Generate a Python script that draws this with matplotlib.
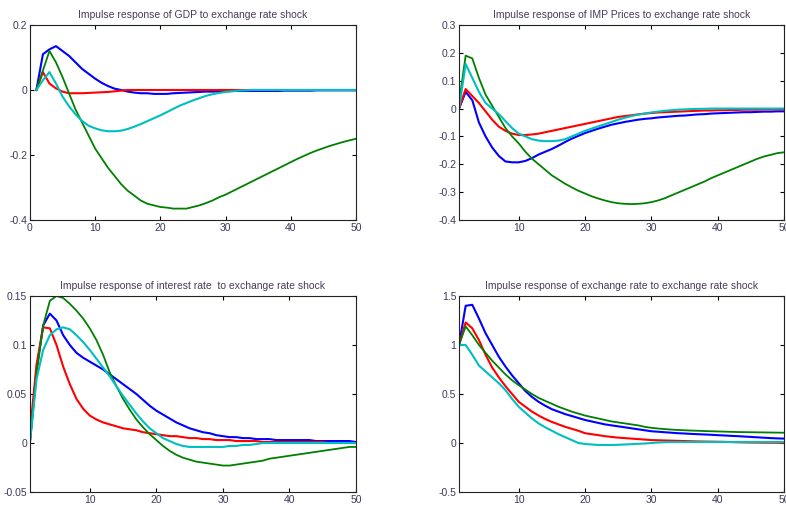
import numpy as np
import matplotlib
matplotlib.use('Agg')
import matplotlib.pyplot as plt

plt.rcParams['font.family'] = ['Liberation Sans', 'DejaVu Sans']

periods = np.arange(1, 51)

# GDP response
gdp_blue = [0, 0.11, 0.125, 0.135, 0.12, 0.105, 0.085, 0.065, 0.05, 0.035,
            0.022, 0.012, 0.004, 0.0, -0.005, -0.008, -0.01, -0.01, -0.012, -0.012,
            -0.012, -0.01, -0.009, -0.008, -0.007, -0.006, -0.005, -0.005, -0.004, -0.004,
            -0.003, -0.003, -0.003, -0.003, -0.003, -0.003, -0.003, -0.003, -0.002, -0.002,
            -0.002, -0.002, -0.002, -0.001, -0.001, -0.001, -0.001, -0.001, -0.001, -0.001]
gdp_red = [0, 0.055, 0.02, 0.005, -0.005, -0.01, -0.01, -0.01, -0.009, -0.008,
           -0.007, -0.006, -0.004, -0.002, 0.0, 0.0, 0.0, 0.0, 0.0, 0.0,
           0.0, 0.0, 0.0, 0.0, 0.0, 0.0, 0.0, 0.0, 0.0, 0.0,
           0.0, 0.0, 0.0, 0.0, 0.0, 0.0, 0.0, 0.0, 0.0, 0.0,
           0.0, 0.0, 0.0, 0.0, 0.0, 0.0, 0.0, 0.0, 0.0, 0.0]
gdp_green = [0, 0.06, 0.12, 0.085, 0.04, -0.01, -0.06, -0.1, -0.14, -0.18,
             -0.21, -0.24, -0.265, -0.29, -0.31, -0.325, -0.34, -0.35, -0.355, -0.36,
             -0.362, -0.365, -0.365, -0.365, -0.36, -0.355, -0.348, -0.34, -0.33, -0.322,
             -0.312, -0.302, -0.292, -0.282, -0.272, -0.262, -0.252, -0.242, -0.232, -0.222,
             -0.212, -0.203, -0.194, -0.186, -0.179, -0.172, -0.166, -0.16, -0.155, -0.15]
gdp_cyan = [0, 0.03, 0.055, 0.02, -0.02, -0.05, -0.075, -0.095, -0.11, -0.118,
            -0.124, -0.127, -0.127, -0.125, -0.12, -0.113, -0.105, -0.096, -0.087, -0.078,
            -0.068, -0.058, -0.048, -0.04, -0.032, -0.025, -0.018, -0.013, -0.009, -0.006,
            -0.004, -0.002, -0.001, 0.0, 0.0, 0.0, 0.0, 0.0, 0.0, 0.0,
            0.0, 0.0, 0.0, 0.0, 0.0, 0.0, 0.0, 0.0, 0.0, 0.0]

# import prices response
imp_blue = [0, 0.06, 0.03, -0.05, -0.1, -0.14, -0.17, -0.19, -0.193, -0.193,
            -0.188, -0.178, -0.165, -0.155, -0.145, -0.133, -0.12, -0.108, -0.098, -0.088,
            -0.08, -0.072, -0.065, -0.058, -0.053, -0.048, -0.044, -0.04, -0.037, -0.035,
            -0.032, -0.03, -0.028, -0.026, -0.025, -0.023, -0.021, -0.02, -0.018, -0.017,
            -0.016, -0.015, -0.014, -0.013, -0.013, -0.012, -0.011, -0.011, -0.01, -0.01]
imp_red = [0, 0.07, 0.045, 0.02, -0.01, -0.04, -0.065, -0.08, -0.09, -0.095,
           -0.095, -0.093, -0.09, -0.085, -0.08, -0.075, -0.07, -0.065, -0.06, -0.055,
           -0.05, -0.045, -0.04, -0.035, -0.03, -0.027, -0.024, -0.021, -0.018, -0.016,
           -0.014, -0.013, -0.012, -0.011, -0.01, -0.009, -0.008, -0.007, -0.007, -0.006,
           -0.006, -0.005, -0.005, -0.004, -0.004, -0.004, -0.003, -0.003, -0.003, -0.003]
imp_green = [0.02, 0.19, 0.18, 0.11, 0.05, 0.01, -0.03, -0.07, -0.1, -0.125,
             -0.155, -0.18, -0.2, -0.22, -0.24, -0.255, -0.27, -0.283, -0.295, -0.305,
             -0.315, -0.323, -0.33, -0.336, -0.34, -0.342, -0.343, -0.342, -0.34, -0.336,
             -0.33, -0.322, -0.312, -0.302, -0.292, -0.282, -0.272, -0.262, -0.25, -0.24,
             -0.23, -0.22, -0.21, -0.2, -0.19, -0.18, -0.172, -0.166, -0.16, -0.157]
imp_cyan = [0, 0.16, 0.11, 0.06, 0.02, 0.0, -0.02, -0.045, -0.07, -0.09,
            -0.1, -0.11, -0.115, -0.117, -0.117, -0.115, -0.11, -0.1, -0.09, -0.08,
            -0.072, -0.064, -0.056, -0.048, -0.04, -0.033, -0.027, -0.022, -0.018, -0.014,
            -0.011, -0.008, -0.006, -0.004, -0.003, -0.002, -0.001, -0.001, 0.0, 0.0,
            0.0, 0.0, 0.0, 0.0, 0.0, 0.0, 0.0, 0.0, 0.0, 0.0]

# interest rate response
int_blue = [0, 0.075, 0.12, 0.132, 0.125, 0.11, 0.1, 0.092, 0.087, 0.083,
            0.079, 0.075, 0.07, 0.065, 0.06, 0.055, 0.05, 0.044, 0.038, 0.033,
            0.029, 0.025, 0.021, 0.018, 0.015, 0.013, 0.011, 0.01, 0.008, 0.007,
            0.006, 0.006, 0.005, 0.005, 0.004, 0.004, 0.004, 0.003, 0.003, 0.003,
            0.003, 0.003, 0.003, 0.002, 0.002, 0.002, 0.002, 0.002, 0.002, 0.001]
int_red = [0.01, 0.08, 0.118, 0.117, 0.1, 0.078, 0.06, 0.045, 0.035, 0.028,
           0.024, 0.021, 0.019, 0.017, 0.015, 0.014, 0.013, 0.011, 0.01, 0.009,
           0.008, 0.007, 0.007, 0.006, 0.005, 0.005, 0.004, 0.004, 0.003, 0.003,
           0.003, 0.002, 0.002, 0.002, 0.002, 0.001, 0.001, 0.001, 0.001, 0.001,
           0.001, 0.001, 0.001, 0.001, 0.001, 0.0, 0.0, 0.0, 0.0, 0.0]
int_green = [0, 0.07, 0.12, 0.145, 0.15, 0.148, 0.142, 0.135, 0.127, 0.117,
             0.105, 0.09, 0.072, 0.058, 0.045, 0.034, 0.024, 0.016, 0.009, 0.003,
             -0.003, -0.008, -0.012, -0.015, -0.017, -0.019, -0.02, -0.021, -0.022, -0.023,
             -0.023, -0.022, -0.021, -0.02, -0.019, -0.018, -0.016, -0.015, -0.014, -0.013,
             -0.012, -0.011, -0.01, -0.009, -0.008, -0.007, -0.006, -0.005, -0.004, -0.004]
int_cyan = [0, 0.065, 0.095, 0.11, 0.116, 0.118, 0.116, 0.11, 0.103, 0.095,
            0.086, 0.077, 0.068, 0.058, 0.048, 0.039, 0.03, 0.022, 0.015, 0.01,
            0.005, 0.002, -0.001, -0.003, -0.004, -0.004, -0.004, -0.004, -0.004, -0.004,
            -0.003, -0.003, -0.002, -0.002, -0.001, 0.0, 0.0, 0.0, 0.0, 0.0,
            0.0, 0.0, 0.0, 0.0, 0.0, 0.0, 0.0, 0.0, 0.0, 0.0]

# exchange rate response
exr_blue = [1.0, 1.4, 1.41, 1.27, 1.12, 1.0, 0.88, 0.78, 0.69, 0.61,
            0.53, 0.47, 0.42, 0.38, 0.345, 0.32, 0.295, 0.275, 0.255, 0.235,
            0.22, 0.205, 0.19, 0.18, 0.17, 0.16, 0.15, 0.14, 0.13, 0.12,
            0.115, 0.11, 0.105, 0.1, 0.097, 0.093, 0.09, 0.087, 0.084, 0.08,
            0.077, 0.073, 0.07, 0.066, 0.062, 0.058, 0.054, 0.05, 0.047, 0.045]
exr_red = [1.0, 1.23, 1.17, 1.05, 0.9, 0.77, 0.67, 0.58, 0.5, 0.42,
           0.37, 0.32, 0.28, 0.245, 0.215, 0.19, 0.165, 0.145, 0.125, 0.1,
           0.09, 0.08, 0.07, 0.062, 0.055, 0.05, 0.045, 0.04, 0.035, 0.03,
           0.028, 0.026, 0.024, 0.022, 0.02, 0.018, 0.016, 0.015, 0.014, 0.013,
           0.012, 0.01, 0.008, 0.006, 0.005, 0.004, 0.003, 0.003, 0.002, 0.002]
exr_green = [1.0, 1.19, 1.1, 1.0, 0.92, 0.84, 0.77, 0.7, 0.64, 0.59,
             0.545, 0.5, 0.46, 0.43, 0.4, 0.37, 0.345, 0.32, 0.3, 0.28,
             0.265, 0.25, 0.235, 0.22, 0.21, 0.2, 0.19, 0.18, 0.165, 0.155,
             0.148, 0.142, 0.137, 0.133, 0.13, 0.127, 0.125, 0.122, 0.12, 0.118,
             0.116, 0.114, 0.112, 0.111, 0.11, 0.109, 0.108, 0.107, 0.106, 0.105]
exr_cyan = [1.0, 1.0, 0.9, 0.79, 0.73, 0.67, 0.61, 0.54, 0.45, 0.37,
            0.31, 0.25, 0.2, 0.16, 0.125, 0.09, 0.06, 0.03, 0.0, -0.01,
            -0.015, -0.02, -0.02, -0.02, -0.018, -0.015, -0.012, -0.008, -0.005, 0.0,
            0.005, 0.008, 0.01, 0.01, 0.01, 0.01, 0.01, 0.01, 0.01, 0.01,
            0.01, 0.01, 0.01, 0.01, 0.01, 0.01, 0.01, 0.01, 0.01, 0.01]

titles = ['Impulse response of GDP to exchange rate shock',
          'Impulse response of IMP Prices to exchange rate shock',
          'Impulse response of interest rate  to exchange rate shock',
          'Impulse response of exchange rate to exchange rate shock']

series = [(gdp_blue, gdp_red, gdp_green, gdp_cyan),
          (imp_blue, imp_red, imp_green, imp_cyan),
          (int_blue, int_red, int_green, int_cyan),
          (exr_blue, exr_red, exr_green, exr_cyan)]

colors = ['#0000ff', '#ff0000', '#008000', '#00bfbf']
widths = [1.5, 1.5, 1.3, 1.5]

ylims = [(-0.4, 0.2), (-0.4, 0.3), (-0.05, 0.15), (-0.5, 1.5)]
yticks = [[-0.4, -0.2, 0, 0.2],
          [-0.4, -0.3, -0.2, -0.1, 0, 0.1, 0.2, 0.3],
          [-0.05, 0, 0.05, 0.1, 0.15],
          [-0.5, 0, 0.5, 1, 1.5]]
ylabels = [['-0.4', '-0.2', '0', '0.2'],
           ['-0.4', '-0.3', '-0.2', '-0.1', '0', '0.1', '0.2', '0.3'],
           ['-0.05', '0', '0.05', '0.1', '0.15'],
           ['-0.5', '0', '0.5', '1', '1.5']]
xlims = [(0, 50), (1, 50), (1, 50), (1, 50)]
xticks = [[0, 10, 20, 30, 40, 50], [10, 20, 30, 40, 50],
          [10, 20, 30, 40, 50], [10, 20, 30, 40, 50]]

# axes boxes in figure fractions
boxes = [[0.038, 0.5644, 0.415, 0.3861],
         [0.584, 0.5644, 0.4135, 0.3861],
         [0.038, 0.0257, 0.415, 0.3882],
         [0.584, 0.0257, 0.4135, 0.3882]]

fig = plt.figure(figsize=(7.86, 5.05), dpi=100)

for k in range(4):
    ax = fig.add_axes(boxes[k])
    for vals, c, lw in zip(series[k], colors, widths):
        ax.plot(periods, vals, color=c, linewidth=lw)
    ax.set_xlim(*xlims[k])
    ax.set_ylim(*ylims[k])
    ax.set_xticks(xticks[k])
    ax.set_yticks(yticks[k])
    ax.set_yticklabels(ylabels[k])
    ax.tick_params(direction='in', top=True, right=True, length=3, width=0.8,
                   labelsize=7.5, labelcolor='#3a3a5a', pad=2)
    for sp in ax.spines.values():
        sp.set_linewidth(0.8)
        sp.set_color('#222222')
    ax.set_title(titles[k], fontsize=7.5, color='#4a3a5a', pad=5)

plt.savefig('out.png', dpi=100)
plt.close()
